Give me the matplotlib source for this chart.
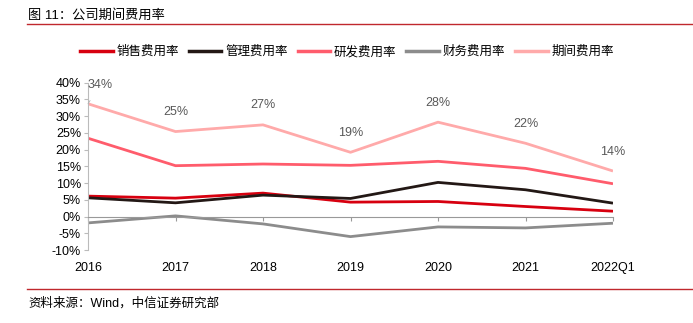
import matplotlib
matplotlib.use('Agg')
import matplotlib.pyplot as plt
from matplotlib.lines import Line2D
import numpy as np

plt.rcParams['font.family'] = ['Liberation Sans', 'Noto Sans CJK SC', 'DejaVu Sans']

# data (%)
years = ['2016', '2017', '2018', '2019', '2020', '2021', '2022Q1']
sales = [6.1, 5.5, 7.0, 4.3, 4.5, 3.0, 1.6]
admin = [5.6, 4.1, 6.4, 5.4, 10.2, 8.0, 4.0]
rnd = [23.4, 15.2, 15.7, 15.3, 16.5, 14.4, 9.8]
fin = [-1.9, 0.2, -2.2, -6.0, -3.1, -3.4, -2.0]
period = [33.7, 25.4, 27.4, 19.2, 28.2, 21.9, 13.6]
period_labels = ['34%', '25%', '27%', '19%', '28%', '22%', '14%']

names = ['销售费用率', '管理费用率', '研发费用率', '财务费用率', '期间费用率']
colors = ['#d7000f', '#231815', '#ff5c6c', '#8c8c8c', '#ffaaaa']

W, H = 693, 323
fig = plt.figure(figsize=(W / 100, H / 100), dpi=100)
ax = fig.add_axes([88 / W, 1 - 250 / H, 525 / W, 167.3 / H])

x = np.arange(len(years))
for vals, c in zip([sales, admin, rnd, fin, period], colors):
    ax.plot(x, vals, color=c, lw=2, solid_capstyle='butt')

# labels on the period line
for i, (v, t) in enumerate(zip(period, period_labels)):
    if i == 0:
        ax.annotate(t, xy=(0, v), xytext=(0.14, 39.4), ha='center', va='center',
                    fontsize=9, color='#595959',
                    arrowprops=dict(arrowstyle='-', color='#b0b0b0', lw=0.6,
                                    shrinkA=6, shrinkB=0))
    else:
        ax.annotate(t, xy=(i, v), xytext=(0, 14), textcoords='offset points',
                    ha='center', va='center', fontsize=9, color='#595959')

ax.set_xlim(0, 6)
ax.set_ylim(-10, 40)
ax.set_yticks(np.arange(-10, 41, 5))
ax.set_yticklabels([f'{v}%' for v in range(-10, 41, 5)])
ax.set_xticks(x)
ax.set_xticklabels(years)

for s in ['top', 'right']:
    ax.spines[s].set_visible(False)
ax.spines['bottom'].set_position(('data', 0))
ax.spines['bottom'].set_color('#999999')
ax.spines['left'].set_color('#bbbbbb')
ax.tick_params(axis='x', length=3, color='#999999', pad=30, labelsize=9, labelcolor='black')
ax.tick_params(axis='y', length=3, color='#bbbbbb', pad=2, labelsize=9, labelcolor='black')

handles = [Line2D([], [], color=c, lw=2.5) for c in colors]
fig.legend(handles, names, loc='center', bbox_to_anchor=(347 / W, 1 - 52 / H), ncol=5,
           frameon=False, fontsize=9, handlelength=2.6, handletextpad=0.3,
           columnspacing=0.8)

# title, rules and source
fig.text(28 / W, 1 - 15 / H, '图 11：公司期间费用率', fontsize=9.5, va='center', ha='left')
fig.add_artist(Line2D([27 / W, 1], [1 - 24 / H, 1 - 24 / H], color='#c0282d', lw=1))
fig.add_artist(Line2D([27 / W, 1], [1 - 289 / H, 1 - 289 / H], color='#c0282d', lw=1))
fig.text(28 / W, 1 - 303 / H, '资料来源：Wind，中信证券研究部', fontsize=9, va='center', ha='left')

fig.savefig('out.png', dpi=100)
